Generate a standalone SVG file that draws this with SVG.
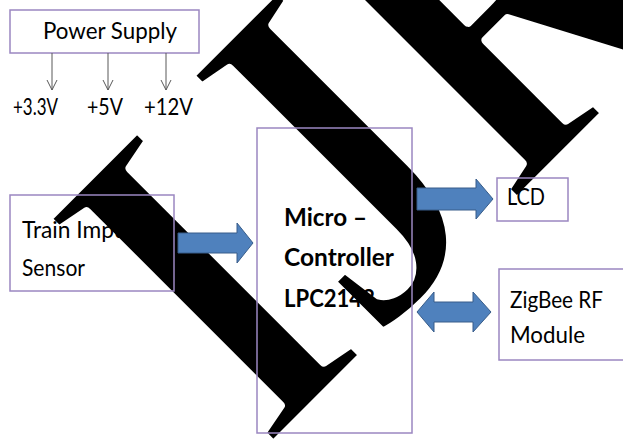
<svg xmlns="http://www.w3.org/2000/svg" width="623" height="443" viewBox="0 0 623 443">
  <defs>
    <style>
      .frame { fill: none; stroke: #9b87c1; stroke-width: 1.5; }
      .label { font-family: Lato, "Liberation Sans", sans-serif; font-size: 23px; fill: #000; }
      .bold { font-family: Lato, "Liberation Sans", sans-serif; font-size: 25px; font-weight: bold; fill: #000; }
      .rail { stroke: #595959; stroke-width: 1; fill: none; }
      .block-arrow { fill: #4f81bd; stroke: #385d8a; stroke-width: 1; }
      /* white outline trims the heavy serif letters down to a medium stroke */
      .mark { font-family: "Liberation Serif", "Times New Roman", serif; font-size: 490px; font-weight: bold; fill: #000; stroke: #fff; stroke-width: 10; stroke-linejoin: round; }
    </style>
    <marker id="open-head" viewBox="0 0 12 12" refX="11" refY="6" markerWidth="12" markerHeight="12" markerUnits="userSpaceOnUse" orient="auto">
      <path d="M1,1 L11,6 L1,11" fill="none" stroke="#595959" stroke-width="1"/>
    </marker>
  </defs>

  <rect width="623" height="443" fill="#fff"/>

  <!-- diagonal watermark lettering behind the diagram -->
  <text id="watermark" class="mark" transform="translate(264.7,454.3) rotate(-45) scale(0.8,1)">IJR</text>

  <g id="power-supply">
    <rect class="frame" x="10" y="10" width="189" height="43"/>
    <text class="label" x="43" y="39" font-size="22" textLength="134" lengthAdjust="spacingAndGlyphs">Power Supply</text>
  </g>

  <g id="rail-3v3">
    <text class="label" x="13" y="115" textLength="45" lengthAdjust="spacingAndGlyphs">+3.3V</text>
  </g>
  <g id="rail-5v">
    <text class="label" x="87" y="115" textLength="36" lengthAdjust="spacingAndGlyphs">+5V</text>
  </g>
  <g id="rail-12v">
    <text class="label" x="144" y="115" textLength="49" lengthAdjust="spacingAndGlyphs">+12V</text>
  </g>

  <g id="train-sensor">
    <rect class="frame" x="10" y="195" width="164" height="96"/>
    <text class="label" x="22" y="238" textLength="132" lengthAdjust="spacingAndGlyphs">Train Impulse</text>
    <text class="label" x="22" y="276" textLength="63" lengthAdjust="spacingAndGlyphs">Sensor</text>
  </g>

  <g id="micro-controller">
    <rect class="frame" x="257" y="128" width="155" height="305"/>
    <text class="bold" x="284" y="226" textLength="83" lengthAdjust="spacingAndGlyphs">Micro –</text>
    <text class="bold" x="284" y="266" textLength="110" lengthAdjust="spacingAndGlyphs">Controller</text>
    <text class="bold" x="284" y="307" textLength="91" lengthAdjust="spacingAndGlyphs">LPC2148</text>
  </g>

  <g id="lcd">
    <rect class="frame" x="497" y="178" width="71" height="43"/>
    <text class="label" x="507" y="205" textLength="38" lengthAdjust="spacingAndGlyphs">LCD</text>
  </g>

  <g id="zigbee">
    <rect class="frame" x="499" y="269" width="135" height="91"/>
    <text class="label" x="510" y="308" textLength="93" lengthAdjust="spacingAndGlyphs">ZigBee RF</text>
    <text class="label" x="510" y="343" textLength="75" lengthAdjust="spacingAndGlyphs">Module</text>
  </g>

  <g id="connectors">
    <line class="rail" x1="52" y1="53" x2="52" y2="90" marker-end="url(#open-head)"/>
    <line class="rail" x1="108" y1="53" x2="108" y2="90" marker-end="url(#open-head)"/>
    <line class="rail" x1="166" y1="53" x2="166" y2="90" marker-end="url(#open-head)"/>
    <polygon class="block-arrow" points="178,233 237,233 237,223 253,243 237,263 237,253 178,253"/>
    <polygon class="block-arrow" points="417,188 476,188 476,179 493,199 476,219 476,210 417,210"/>
    <polygon class="block-arrow" points="417,312 434,292 434,302 473,302 473,292 491,312 473,332 473,322 434,322 434,332"/>
  </g>
</svg>
